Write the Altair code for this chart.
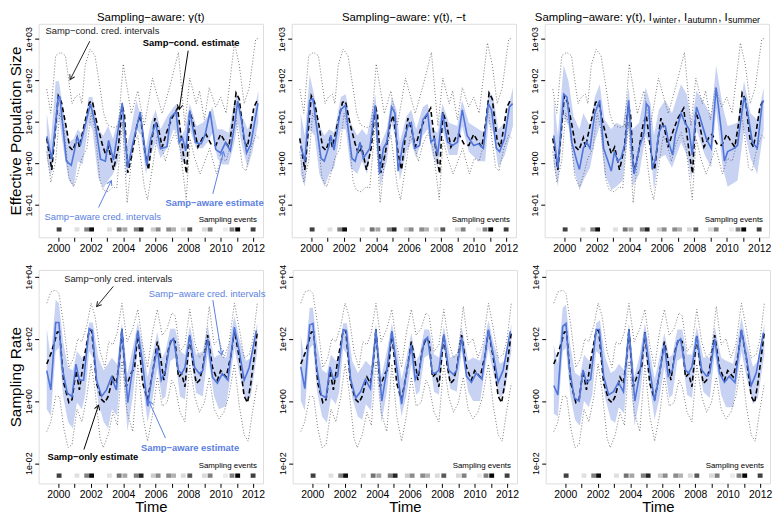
import altair as alt
import numpy as np
import pandas as pd

FONT = "Liberation Sans, Arial, sans-serif"
BLUE = "#4f74da"
BAND = "#c8d2f3"
BLUE_TXT = "#5b7fe0"

# ---------------- data (values are log10 of the plotted quantity) ----------------
TOP_DASH = [[1999.29,0.6],[1999.6,-0.16],[2000.0,1.63],[2000.2,1.47],[2000.5,0.85],[2000.7,0.39],[2000.9,0.31],[2001.17,0.62],[2001.3,0.39],[2001.6,0.93],[2001.92,1.47],[2002.1,1.5],[2002.4,0.93],[2002.7,0.47],[2002.9,0.23],[2003.1,0.39],[2003.4,-0.16],[2003.7,0.39],[2003.94,1.4],[2004.08,1.16],[2004.28,-0.23],[2004.55,0.23],[2004.85,0.93],[2005.05,1.16],[2005.35,0.23],[2005.56,-0.16],[2005.76,0.54],[2005.95,1.09],[2006.2,0.78],[2006.4,0.39],[2006.7,0.78],[2007.0,1.09],[2007.35,1.33],[2007.5,0.85],[2007.7,0.23],[2007.9,-0.25],[2008.1,1.24],[2008.3,1.0],[2008.6,0.39],[2008.9,0.62],[2009.1,0.7],[2009.4,0.47],[2009.7,0.43],[2010.0,0.7],[2010.24,0.54],[2010.5,0.39],[2010.75,1.0],[2010.95,1.7],[2011.15,1.55],[2011.45,0.54],[2011.65,0.39],[2011.85,0.85],[2012.05,1.36],[2012.3,1.55]]
TOP_UP = [[1999.29,1.79],[1999.54,1.21],[1999.84,2.6],[2000.14,2.68],[2000.44,2.6],[2000.65,1.98],[2000.85,1.44],[2001.05,1.6],[2001.3,1.67],[2001.45,1.44],[2001.66,2.37],[2001.96,2.76],[2002.26,2.6],[2002.57,1.83],[2002.8,1.2],[2003.03,0.93],[2003.4,0.86],[2003.7,0.9],[2004.0,2.4],[2004.5,1.2],[2004.9,1.75],[2005.3,0.9],[2005.8,2.06],[2006.4,1.2],[2006.9,1.9],[2007.4,2.68],[2007.8,0.9],[2008.1,2.06],[2008.5,1.44],[2008.7,1.75],[2009.0,1.05],[2009.3,1.83],[2009.7,1.36],[2010.0,1.6],[2010.34,1.21],[2010.85,2.91],[2011.15,2.37],[2011.45,1.44],[2011.76,1.83],[2012.16,3.0],[2012.36,3.02]]
TOP_LO = [[1999.29,0.28],[1999.54,-0.46],[1999.84,0.05],[2000.08,1.21],[2000.34,0.9],[2000.65,-0.34],[2000.95,-0.57],[2001.2,-0.26],[2001.45,0.12],[2001.76,0.36],[2002.02,1.21],[2002.26,0.82],[2002.57,-0.42],[2002.77,-0.65],[2003.07,-0.69],[2003.37,-0.57],[2003.6,-0.6],[2003.95,1.0],[2004.24,-0.96],[2004.6,0.43],[2004.9,0.67],[2005.3,-0.57],[2005.5,-0.88],[2005.8,-0.1],[2006.1,0.67],[2006.3,0.5],[2006.6,0.05],[2006.9,0.5],[2007.2,0.74],[2007.5,0.36],[2007.88,-0.88],[2008.12,0.59],[2008.4,0.12],[2008.73,-0.26],[2009.03,0.05],[2009.33,0.36],[2009.74,-0.26],[2010.04,0.12],[2010.34,0.05],[2010.65,0.51],[2010.85,1.44],[2011.05,0.82],[2011.35,-0.1],[2011.56,-0.19],[2011.86,0.36],[2012.16,0.67],[2012.36,0.6]]

T1_BLUE = [[1999.3,0.65],[1999.6,0.1],[2000.0,1.6],[2000.1,1.6],[2000.5,0.05],[2000.8,-0.05],[2001.17,0.62],[2001.37,0.45],[2001.98,1.44],[2002.3,0.9],[2002.6,0.1],[2002.9,0.05],[2003.1,0.55],[2003.4,0.08],[2003.94,1.46],[2004.28,-0.1],[2004.6,0.5],[2005.05,1.24],[2005.45,-0.05],[2005.7,0.6],[2006.0,0.98],[2006.3,0.35],[2006.7,0.4],[2006.9,1.1],[2007.25,1.25],[2007.45,0.5],[2007.65,0.62],[2007.85,0.3],[2008.1,1.27],[2008.45,0.5],[2008.8,0.47],[2009.05,0.7],[2009.35,1.25],[2009.7,0.33],[2010.0,0.25],[2010.3,0.5],[2010.6,0.3],[2010.85,0.9],[2011.05,1.5],[2011.3,1.0],[2011.6,0.25],[2011.85,0.45],[2012.3,1.45]]
T1_BAND = [[1999.29,0.12,1.21],[1999.54,-0.34,0.51],[1999.84,0.67,1.98],[2000.04,1.13,1.98],[2000.34,0.28,1.21],[2000.65,-0.42,0.51],[2000.95,-0.57,0.59],[2001.2,0.05,0.82],[2001.5,-0.03,0.67],[2001.88,0.98,1.6],[2002.1,0.82,1.6],[2002.46,-0.34,0.82],[2002.77,-0.61,0.67],[2003.07,-0.42,0.9],[2003.37,-0.26,0.59],[2003.68,0.05,1.05],[2003.92,0.98,1.44],[2004.18,-0.34,0.36],[2004.48,0.12,0.82],[2004.8,0.82,1.52],[2005.1,0.67,1.13],[2005.4,-0.26,0.36],[2005.7,0.2,0.98],[2006.0,0.51,1.29],[2006.3,0.12,0.82],[2006.7,0.36,1.13],[2007.1,0.82,1.36],[2007.3,0.74,1.44],[2007.6,0.05,0.67],[2007.8,-0.03,0.82],[2008.1,0.82,1.44],[2008.5,0.36,0.9],[2008.9,0.36,0.98],[2009.2,0.51,1.13],[2009.5,0.74,1.36],[2009.8,0.12,0.82],[2010.1,-0.03,0.82],[2010.5,-0.03,0.74],[2010.85,0.51,1.52],[2011.05,0.98,1.67],[2011.35,0.36,1.13],[2011.66,-0.11,0.82],[2011.96,0.28,1.05],[2012.32,0.98,1.75]]

T2_BLUE = [[1999.35,0.43],[1999.6,0.05],[1999.9,1.52],[2000.1,1.56],[2000.4,0.67],[2000.6,0.12],[2000.8,0.05],[2001.1,0.43],[2001.2,0.67],[2001.4,0.32],[2001.8,1.29],[2002.1,1.4],[2002.3,0.74],[2002.5,0.12],[2002.7,0.05],[2003.0,0.51],[2003.2,0.12],[2003.6,0.36],[2003.94,1.4],[2004.2,-0.26],[2004.44,0.36],[2004.65,0.51],[2004.95,1.36],[2005.15,1.21],[2005.35,-0.19],[2005.66,0.51],[2005.96,0.9],[2006.16,0.98],[2006.36,0.36],[2006.67,0.43],[2006.87,1.05],[2007.17,1.21],[2007.37,0.51],[2007.58,0.59],[2007.78,0.2],[2008.08,1.21],[2008.4,0.51],[2008.7,0.43],[2009.0,0.51],[2009.3,1.29],[2009.6,0.67],[2010.0,0.43],[2010.3,0.47],[2010.6,0.36],[2010.9,1.44],[2011.1,1.29],[2011.4,0.36],[2011.6,0.28],[2011.9,0.59],[2012.2,1.36],[2012.4,1.44]]
T2_BAND = [[1999.35,-0.26,1.21],[1999.6,-0.57,0.67],[1999.9,0.82,2.14],[2000.2,0.67,1.6],[2000.5,-0.26,0.9],[2000.81,-0.57,0.67],[2001.11,-0.26,0.82],[2001.41,-0.11,0.74],[2001.82,0.82,1.6],[2002.12,0.82,1.67],[2002.42,-0.11,0.98],[2002.83,-0.26,0.67],[2003.13,0.05,0.82],[2003.43,-0.26,0.67],[2003.94,0.98,1.67],[2004.24,-0.57,0.43],[2004.65,0.05,0.82],[2004.95,0.98,1.6],[2005.25,0.51,1.29],[2005.45,-0.42,0.51],[2005.86,0.28,1.13],[2006.16,0.51,1.29],[2006.46,0.12,0.82],[2006.87,0.67,1.36],[2007.17,0.82,1.44],[2007.47,0.2,0.82],[2007.78,-0.11,0.74],[2008.08,0.82,1.44],[2008.48,0.2,0.98],[2008.99,0.2,0.9],[2009.29,0.9,1.52],[2009.7,0.28,0.98],[2010.3,0.05,0.82],[2010.71,0.05,0.74],[2010.91,0.98,1.75],[2011.21,0.74,1.6],[2011.52,-0.11,0.82],[2011.92,0.2,0.98],[2012.42,0.9,1.83]]

T3_BLUE = [[1999.35,0.67],[1999.6,-0.11],[1999.96,1.67],[2000.16,1.6],[2000.46,0.51],[2000.77,0.05],[2000.93,-0.15],[2001.17,0.36],[2001.37,0.51],[2001.58,0.36],[2001.88,1.21],[2002.18,1.52],[2002.42,0.36],[2002.69,0.05],[2002.89,-0.19],[2003.09,0.28],[2003.29,0.05],[2003.49,0.12],[2003.76,0.51],[2003.96,1.52],[2004.16,0.28],[2004.3,-0.26],[2004.61,0.36],[2004.91,0.74],[2005.05,1.44],[2005.21,1.36],[2005.41,-0.15],[2005.62,0.12],[2005.82,0.74],[2006.02,0.9],[2006.22,0.9],[2006.42,0.51],[2006.67,0.2],[2006.83,0.67],[2007.19,1.21],[2007.43,0.98],[2007.68,0.82],[2007.88,0.2],[2008.14,1.36],[2008.34,1.13],[2008.75,0.59],[2009.05,0.36],[2009.35,1.83],[2009.66,0.82],[2009.86,0.05],[2010.06,0.28],[2010.46,0.36],[2010.67,0.43],[2010.87,1.05],[2011.07,1.6],[2011.27,1.29],[2011.58,0.51],[2011.88,0.36],[2012.18,1.44],[2012.28,1.52]]
T3_BAND = [[1999.35,-0.03,1.6],[1999.6,-0.57,0.67],[1999.96,1.13,2.37],[2000.26,0.9,1.98],[2000.57,-0.11,1.13],[2000.93,-0.65,0.82],[2001.17,-0.42,1.21],[2001.58,-0.11,0.9],[2001.88,0.51,1.6],[2002.18,0.9,1.91],[2002.48,-0.26,1.05],[2002.89,-0.65,0.82],[2003.19,-0.57,0.98],[2003.6,-0.42,0.9],[2003.96,0.9,1.83],[2004.2,-0.57,0.82],[2004.61,-0.26,0.98],[2005.01,0.67,1.83],[2005.31,0.36,1.44],[2005.52,-0.65,0.67],[2005.82,0.12,1.29],[2006.22,0.2,1.52],[2006.63,-0.11,1.21],[2007.19,0.51,1.91],[2007.54,0.2,1.67],[2007.84,-0.42,0.98],[2008.14,0.82,1.75],[2008.65,0.2,1.44],[2009.05,-0.11,1.13],[2009.35,1.29,2.37],[2009.76,-0.11,1.36],[2010.06,-0.57,0.9],[2010.67,-0.42,0.98],[2011.07,0.82,1.98],[2011.47,0.12,1.21],[2011.88,-0.26,1.05],[2012.28,0.82,1.83]]

BOT_DASH = [[1999.29,1.19],[1999.6,1.6],[1999.94,2.22],[2000.08,2.22],[2000.34,0.57],[2000.65,-0.05],[2000.85,0.05],[2001.09,0.98],[2001.3,0.36],[2001.56,1.29],[2001.9,2.27],[2002.06,2.27],[2002.36,0.57],[2002.67,0.05],[2002.87,-0.05],[2003.07,0.15],[2003.37,0.77],[2003.58,0.57],[2003.78,1.39],[2003.92,2.33],[2004.18,0.46],[2004.48,0.88],[2004.7,1.08],[2004.9,2.22],[2005.2,0.57],[2005.5,0.05],[2005.8,0.88],[2006.1,1.91],[2006.3,1.39],[2006.5,0.67],[2006.8,1.71],[2007.0,2.01],[2007.2,1.91],[2007.4,0.77],[2007.6,0.88],[2007.8,0.46],[2008.1,2.12],[2008.3,1.19],[2008.5,0.57],[2008.7,0.67],[2008.9,1.08],[2009.2,2.12],[2009.5,1.08],[2009.8,0.67],[2010.0,0.98],[2010.34,0.77],[2010.65,1.5],[2010.85,2.27],[2011.15,1.39],[2011.45,0.15],[2011.66,-0.05],[2011.86,0.57],[2012.06,1.39],[2012.26,2.22]]
BOT_UP = [[1999.29,3.15],[1999.54,3.51],[1999.84,3.57],[2000.04,3.46],[2000.34,2.43],[2000.65,1.08],[2000.95,1.39],[2001.2,2.01],[2001.45,1.91],[2001.76,2.43],[2002.02,3.15],[2002.26,2.74],[2002.57,1.6],[2002.87,1.08],[2003.11,1.91],[2003.37,1.81],[2003.64,2.22],[2003.92,3.15],[2004.24,1.91],[2004.59,2.33],[2004.9,2.95],[2005.2,1.81],[2005.5,1.08],[2005.8,2.22],[2006.1,2.95],[2006.4,2.12],[2006.7,2.33],[2007.0,2.84],[2007.2,2.74],[2007.5,1.6],[2007.8,1.81],[2008.1,2.95],[2008.4,1.91],[2008.7,1.39],[2009.0,1.6],[2009.3,3.05],[2009.6,1.81],[2009.9,2.01],[2010.2,1.39],[2010.5,1.81],[2010.85,3.15],[2011.15,2.33],[2011.45,1.39],[2011.76,1.5],[2012.0,2.01],[2012.26,3.15]]
BOT_LO = [[1999.29,-0.98],[1999.54,-0.67],[1999.84,0.15],[2000.08,0.15],[2000.34,-0.88],[2000.6,-1.5],[2000.85,-1.4],[2001.15,-0.26],[2001.45,-0.67],[2001.76,0.15],[2002.02,1.19],[2002.26,0.36],[2002.57,-1.19],[2002.77,-1.5],[2003.07,-1.09],[2003.37,-0.36],[2003.64,-0.78],[2003.92,1.29],[2004.24,-0.36],[2004.59,-0.98],[2004.9,1.19],[2005.2,-0.47],[2005.5,-1.29],[2005.8,-0.47],[2006.1,0.77],[2006.4,-0.16],[2006.7,-0.05],[2007.0,0.67],[2007.2,0.46],[2007.5,-0.36],[2007.8,-0.67],[2008.1,1.19],[2008.4,0.15],[2008.7,-0.36],[2009.0,-0.05],[2009.3,0.77],[2009.6,-0.26],[2009.9,-0.57],[2010.2,-0.36],[2010.5,0.15],[2010.85,1.19],[2011.15,-0.16],[2011.45,-1.09],[2011.7,-1.29],[2011.96,-0.36],[2012.26,0.57]]

B1_BLUE = [[1999.29,0.98],[1999.54,0.36],[1999.84,2.53],[2000.04,2.53],[2000.24,1.08],[2000.55,0.26],[2000.85,0.15],[2001.09,1.19],[2001.3,0.67],[2001.56,0.67],[2001.9,2.33],[2002.1,2.27],[2002.36,0.67],[2002.67,0.15],[2002.97,0.36],[2003.27,0.77],[2003.58,0.36],[2003.92,2.33],[2004.28,-0.05],[2004.59,1.08],[2004.9,2.27],[2005.2,1.19],[2005.5,-0.16],[2005.8,0.88],[2006.1,1.71],[2006.34,0.67],[2006.6,0.98],[2006.9,1.91],[2007.1,2.01],[2007.4,0.98],[2007.6,0.88],[2007.8,1.08],[2008.1,2.12],[2008.4,1.08],[2008.7,0.88],[2008.9,0.98],[2009.2,2.01],[2009.5,0.77],[2009.8,0.57],[2010.1,0.88],[2010.45,0.67],[2010.85,2.38],[2011.15,1.6],[2011.45,0.67],[2011.76,1.08],[2012.2,2.27]]
B1_BAND = [[1999.29,-0.26,2.33],[1999.54,-0.47,1.39],[1999.84,1.6,3.26],[2000.04,1.71,3.15],[2000.3,0.15,1.91],[2000.6,-0.67,1.08],[2000.9,-0.88,0.98],[2001.15,-0.05,1.6],[2001.45,-0.26,1.39],[2001.66,0.2,1.5],[2001.9,1.6,2.53],[2002.13,1.39,2.53],[2002.46,-0.05,1.39],[2002.8,-0.67,0.98],[2003.07,-0.88,1.2],[2003.3,-0.26,1.39],[2003.62,-0.47,1.19],[2003.92,1.6,2.53],[2004.26,-0.98,0.88],[2004.59,0.15,1.71],[2004.9,1.71,2.53],[2005.2,0.57,1.81],[2005.5,-0.67,0.77],[2005.8,0.05,1.5],[2006.1,1.08,2.22],[2006.4,0.05,1.39],[2006.6,0.15,1.6],[2006.9,1.29,2.33],[2007.2,1.39,2.33],[2007.5,0.15,1.6],[2007.8,0.05,1.5],[2008.1,1.6,2.43],[2008.5,0.26,1.5],[2008.9,0.15,1.6],[2009.2,1.5,2.43],[2009.6,0.15,1.39],[2009.9,-0.26,1.5],[2010.34,-0.16,1.39],[2010.85,1.71,2.74],[2011.15,0.88,2.01],[2011.56,-0.05,1.29],[2011.86,0.15,1.39],[2012.26,1.6,2.53]]

B2_BLUE = [[1999.29,1.1],[1999.54,0.4],[1999.84,2.45],[2000.04,2.5],[2000.24,1.2],[2000.55,0.2],[2000.85,0.1],[2001.09,1.1],[2001.3,0.7],[2001.56,0.8],[2001.9,2.3],[2002.1,2.25],[2002.36,0.7],[2002.67,0.1],[2002.97,0.3],[2003.27,0.7],[2003.58,0.4],[2003.92,2.3],[2004.28,0.0],[2004.59,1.0],[2004.9,2.25],[2005.2,1.1],[2005.5,-0.1],[2005.8,0.9],[2006.1,1.8],[2006.34,0.7],[2006.6,1.0],[2006.9,1.95],[2007.1,2.05],[2007.4,0.9],[2007.6,0.9],[2007.8,1.0],[2008.1,2.15],[2008.4,1.0],[2008.7,0.85],[2008.9,1.0],[2009.2,2.05],[2009.5,0.8],[2009.8,0.6],[2010.1,0.9],[2010.45,0.7],[2010.85,2.3],[2011.15,1.5],[2011.45,0.6],[2011.76,1.0],[2012.2,2.25]]
B2_BAND = [[1999.29,0.0,2.1],[1999.54,-0.3,1.3],[1999.84,1.7,3.0],[2000.04,1.8,3.0],[2000.3,0.3,1.8],[2000.6,-0.5,1.0],[2000.9,-0.7,0.9],[2001.15,0.1,1.5],[2001.45,-0.1,1.3],[2001.66,0.3,1.4],[2001.9,1.7,2.5],[2002.13,1.5,2.5],[2002.46,0.1,1.3],[2002.8,-0.5,0.9],[2003.07,-0.6,1.1],[2003.3,-0.1,1.3],[2003.62,-0.3,1.1],[2003.92,1.7,2.5],[2004.26,-0.7,0.8],[2004.59,0.3,1.6],[2004.9,1.8,2.5],[2005.2,0.6,1.7],[2005.5,-0.5,0.7],[2005.8,0.2,1.4],[2006.1,1.2,2.2],[2006.4,0.2,1.3],[2006.6,0.3,1.5],[2006.9,1.4,2.3],[2007.2,1.5,2.3],[2007.5,0.3,1.5],[2007.8,0.2,1.4],[2008.1,1.7,2.4],[2008.5,0.4,1.4],[2008.9,0.3,1.5],[2009.2,1.6,2.4],[2009.6,0.3,1.3],[2009.9,0.0,1.4],[2010.34,0.0,1.3],[2010.85,1.7,2.6],[2011.15,0.9,1.9],[2011.56,0.1,1.2],[2011.86,0.3,1.3],[2012.26,1.6,2.5]]
B3_BLUE = [[1999.29,0.5],[1999.54,0.2],[1999.84,2.4],[2000.04,2.5],[2000.24,1.1],[2000.55,0.1],[2000.85,0.0],[2001.09,1.0],[2001.3,0.6],[2001.56,0.7],[2001.9,2.3],[2002.1,2.3],[2002.36,0.8],[2002.67,0.2],[2002.97,0.3],[2003.27,0.6],[2003.58,0.3],[2003.92,2.3],[2004.28,0.0],[2004.59,0.9],[2004.9,2.2],[2005.2,1.0],[2005.5,0.0],[2005.8,0.9],[2006.1,1.8],[2006.34,0.8],[2006.6,1.0],[2006.9,1.9],[2007.1,2.0],[2007.4,1.0],[2007.6,0.9],[2007.8,1.1],[2008.1,2.1],[2008.4,1.0],[2008.7,0.8],[2008.9,0.9],[2009.2,2.0],[2009.5,0.9],[2009.8,0.6],[2010.1,0.8],[2010.45,0.6],[2010.85,2.3],[2011.15,1.4],[2011.45,0.5],[2011.76,0.9],[2012.2,2.2]]
B3_BAND = [[1999.29,-0.4,1.8],[1999.54,-0.5,1.2],[1999.84,1.6,3.0],[2000.04,1.7,3.1],[2000.3,0.2,1.8],[2000.6,-0.6,0.9],[2000.9,-0.8,0.8],[2001.15,0.0,1.5],[2001.45,-0.2,1.3],[2001.66,0.2,1.4],[2001.9,1.6,2.5],[2002.13,1.5,2.6],[2002.46,0.1,1.4],[2002.8,-0.6,0.9],[2003.07,-0.7,1.0],[2003.3,-0.2,1.2],[2003.62,-0.4,1.0],[2003.92,1.6,2.5],[2004.26,-0.8,0.8],[2004.59,0.1,1.5],[2004.9,1.6,2.5],[2005.2,0.5,1.6],[2005.5,-0.6,0.7],[2005.8,0.1,1.4],[2006.1,1.1,2.2],[2006.4,0.1,1.4],[2006.6,0.2,1.5],[2006.9,1.3,2.3],[2007.2,1.4,2.3],[2007.5,0.2,1.5],[2007.8,0.1,1.5],[2008.1,1.6,2.4],[2008.5,0.3,1.4],[2008.9,0.1,1.4],[2009.2,1.5,2.4],[2009.6,0.2,1.4],[2009.9,-0.2,1.3],[2010.34,-0.2,1.2],[2010.85,1.6,2.7],[2011.15,0.8,1.9],[2011.56,-0.1,1.1],[2011.86,0.1,1.3],[2012.26,1.5,2.5]]

STRIP_T = [2000.05, 2001.15, 2001.75, 2002.05, 2003.15, 2003.75, 2004.1, 2004.8, 2005.1, 2005.85, 2006.15, 2006.8, 2007.1, 2007.7, 2008.1, 2009.0, 2009.35, 2010.3, 2010.7, 2011.05, 2012.0]
STRIP_SHADE = [0.75, 0.12, 0.5, 0.95, 0.12, 0.55, 0.35, 0.5, 0.85, 0.2, 0.45, 0.45, 0.3, 0.15, 0.65, 0.15, 0.5, 0.08, 0.5, 0.98, 0.75]

YEAR_TICKS = list(range(2000, 2013))
TOP_TICKS = [0.1, 1, 10, 100, 1000]
BOT_TICKS = [0.01, 1, 100, 10000]

# annotations: (t, log10 value, text, colour, weight)
TL_TEXT = [(1999.21, 3.19, "Samp\u2212cond. cred. intervals", "#222222", "normal"),
           (2005.21, 2.91, "Samp\u2212cond. estimate", "#000000", "bold"),
           (1999.15, -1.30, "Samp\u2212aware cred. intervals", BLUE_TXT, "normal"),
           (2006.6, -0.95, "Samp\u2212aware estimate", BLUE_TXT, "bold")]
TL_ARROWS = [(2001.94, 2.95, 2000.73, 2.02, "#222222"),
             (2008.0, 2.72, 2007.45, 1.30, "#000000"),
             (2002.48, -1.07, 2003.27, -0.42, BLUE_TXT),
             (2009.52, -0.74, 2010.18, 0.28, BLUE_TXT)]
BL_TEXT = [(2000.36, 3.94, "Samp\u2212only cred. intervals", "#222222", "normal"),
           (2005.58, 3.44, "Samp\u2212aware cred. intervals", BLUE_TXT, "normal"),
           (1999.33, -1.81, "Samp\u2212only estimate", "#000000", "bold"),
           (2005.09, -1.50, "Samp\u2212aware estimate", BLUE_TXT, "bold")]
BL_ARROWS = [(2003.39, 3.69, 2002.36, 3.04, "#222222"),
             (2009.52, 3.25, 2010.06, 1.48, BLUE_TXT),
             (2001.58, -1.56, 2002.48, -0.13, "#000000"),
             (2006.6, -1.19, 2005.58, 0.0, BLUE_TXT)]

# ---------------- layout ----------------
W, H = 227, 216
XDOM = [1998.79, 2012.61]
TOP_LDOM = [-1.79, 3.37]
BOT_LDOM = [-2.65, 4.22]
STRIP_TOP = (-1.65, -1.55)
STRIP_BOT = (-2.47, -2.33)
SE_TOP = -1.37
SE_BOT = -2.09
HEAD = "M-0.577,1L0,0L0.577,1"


def line_df(pairs):
    a = np.array(pairs, dtype=float)
    return pd.DataFrame({"t": a[:, 0], "v": 10 ** a[:, 1]})


def band_df(trip):
    a = np.array(trip, dtype=float)
    return pd.DataFrame({"t": a[:, 0], "lo": 10 ** a[:, 1], "hi": 10 ** a[:, 2]})


def gray(s):
    g = int(round(255 * (1 - s)))
    return "#%02x%02x%02x" % (g, g, g)


def panel(blue, band, dash, up, lo, ldom, yticks, ytitle, xtitle, title_parts,
          texts, arrows, strip_rng, se_l):
    xs = alt.Scale(domain=XDOM, nice=False, zero=False)
    ys = alt.Scale(type="log", domain=[10 ** ldom[0], 10 ** ldom[1]], nice=False)
    xax = alt.Axis(values=YEAR_TICKS, labelExpr="datum.value % 2 == 0 ? format(datum.value, 'd') : ''",
                   title=xtitle, grid=False, domain=False, tickSize=4, tickColor="black",
                   labelFont=FONT, labelFontSize=10.5, labelColor="black", labelPadding=2,
                   titleFont=FONT, titleFontSize=15, titleFontWeight="normal", titleColor="black",
                   titlePadding=0)
    yax = alt.Axis(values=yticks,
                   labelExpr="'1e' + (datum.value >= 1 ? '+' : '-') + '0' + abs(round(log(datum.value) / LN10))",
                   title=ytitle, grid=False, domain=False, tickSize=4, tickColor="black",
                   labelFont=FONT, labelFontSize=9, labelColor="black", labelPadding=1,
                   labelAngle=270, labelAlign="center", labelBaseline="bottom",
                   titleFont=FONT, titleFontSize=15.5, titleFontWeight="normal", titleColor="black",
                   titlePadding=1)

    def X(f):
        return alt.X(f, type="quantitative", scale=xs, axis=xax)

    def Y(f):
        return alt.Y(f, type="quantitative", scale=ys, axis=yax)

    layers = []
    layers.append(alt.Chart(band_df(band)).mark_area(color=BAND, opacity=1, clip=True)
                  .encode(x=X("t"), y=Y("lo"), y2="hi"))
    for d in (up, lo):
        layers.append(alt.Chart(line_df(d)).mark_line(color="#555555", strokeWidth=0.8,
                                                      strokeDash=[1, 2], clip=True)
                      .encode(x=X("t"), y=Y("v")))
    layers.append(alt.Chart(line_df(dash)).mark_line(color="black", strokeWidth=1.6,
                                                     strokeDash=[5, 3], clip=True)
                  .encode(x=X("t"), y=Y("v")))
    layers.append(alt.Chart(line_df(blue)).mark_line(color=BLUE, strokeWidth=1.6, clip=True)
                  .encode(x=X("t"), y=Y("v")))
    # sampling events strip
    st = pd.DataFrame({"t0": np.array(STRIP_T) - 0.15, "t1": np.array(STRIP_T) + 0.15,
                       "y0": 10 ** strip_rng[0], "y1": 10 ** strip_rng[1],
                       "col": [gray(s) for s in STRIP_SHADE]})
    layers.append(alt.Chart(st).mark_rect().encode(x=X("t0"), x2="t1", y=Y("y0"), y2="y1",
                                                   color=alt.Color("col:N", scale=None)))
    se = pd.DataFrame({"t": [2012.24], "v": [10 ** se_l], "txt": ["Sampling events"]})
    layers.append(alt.Chart(se).mark_text(align="right", baseline="middle", font=FONT,
                                          fontSize=8, color="black")
                  .encode(x=X("t"), y=Y("v"), text="txt:N"))
    # annotations
    if texts:
        tdf = pd.DataFrame(texts, columns=["t", "l", "txt", "col", "w"])
        tdf["v"] = 10 ** tdf["l"]
        for w in ("normal", "bold"):
            sub = tdf[tdf["w"] == w]
            layers.append(alt.Chart(sub).mark_text(align="left", baseline="middle", font=FONT,
                                                   fontSize=9.5, fontWeight=w)
                          .encode(x=X("t"), y=Y("v"), text="txt:N",
                                  color=alt.Color("col:N", scale=None)))
        adf = pd.DataFrame(arrows, columns=["t0", "l0", "t1", "l1", "col"])
        adf["v0"] = 10 ** adf["l0"]
        adf["v1"] = 10 ** adf["l1"]

        def px(t, l):
            return ((t - XDOM[0]) / (XDOM[1] - XDOM[0]) * W,
                    H * (ldom[1] - l) / (ldom[1] - ldom[0]))
        angs = []
        for _, r in adf.iterrows():
            x0, y0 = px(r.t0, r.l0)
            x1, y1 = px(r.t1, r.l1)
            angs.append(float(np.degrees(np.arctan2(x1 - x0, -(y1 - y0))) % 360))
        adf["ang"] = angs
        layers.append(alt.Chart(adf).mark_rule(strokeWidth=1)
                      .encode(x=X("t0"), x2="t1", y=Y("v0"), y2="v1",
                              color=alt.Color("col:N", scale=None)))
        layers.append(alt.Chart(adf).mark_point(shape=HEAD, filled=False, size=90, strokeWidth=1,
                                                opacity=1)
                      .encode(x=X("t1"), y=Y("v1"), angle=alt.Angle("ang:Q", scale=None),
                              color=alt.Color("col:N", scale=None)))
    # panel title pieces (text, x px, y px, size, align)
    for txt, xp, yp, fs, al in title_parts:
        tdf = pd.DataFrame({"txt": [txt]})
        layers.append(alt.Chart(tdf).mark_text(align=al, baseline="alphabetic", font=FONT,
                                               fontSize=fs, color="black")
                      .encode(x=alt.value(xp), y=alt.value(yp), text="txt:N"))
    return alt.layer(*layers).properties(width=W, height=H)


T1 = [("Sampling\u2212aware: \u03b3(t)", W / 2, -3, 11.5, "center")]
T2 = [("Sampling\u2212aware: \u03b3(t), \u2212t", W / 2, -3, 11.5, "center")]
T3 = [("Sampling\u2212aware: \u03b3(t), I", -10, -3, 11.5, "left"),
      ("winter", 109.5, -1, 9, "left"),
      (", I", 134.5, -3, 11.5, "left"),
      ("autumn", 144.5, -1, 9, "left"),
      (", I", 175.5, -3, 11.5, "left"),
      ("summer", 185.5, -1, 9, "left")]

top = alt.hconcat(
    panel(T1_BLUE, T1_BAND, TOP_DASH, TOP_UP, TOP_LO, TOP_LDOM, TOP_TICKS, "Effective Population Size",
          None, T1, TL_TEXT, TL_ARROWS, STRIP_TOP, SE_TOP),
    panel(T2_BLUE, T2_BAND, TOP_DASH, TOP_UP, TOP_LO, TOP_LDOM, TOP_TICKS, None,
          None, T2, None, None, STRIP_TOP, SE_TOP),
    panel(T3_BLUE, T3_BAND, TOP_DASH, TOP_UP, TOP_LO, TOP_LDOM, TOP_TICKS, None,
          None, T3, None, None, STRIP_TOP, SE_TOP),
    spacing=11)
bot = alt.hconcat(
    panel(B1_BLUE, B1_BAND, BOT_DASH, BOT_UP, BOT_LO, BOT_LDOM, BOT_TICKS, "Sampling Rate",
          "Time", [], BL_TEXT, BL_ARROWS, STRIP_BOT, SE_BOT),
    panel(B2_BLUE, B2_BAND, BOT_DASH, BOT_UP, BOT_LO, BOT_LDOM, BOT_TICKS, None,
          "Time", [], None, None, STRIP_BOT, SE_BOT),
    panel(B3_BLUE, B3_BAND, BOT_DASH, BOT_UP, BOT_LO, BOT_LDOM, BOT_TICKS, None,
          "Time", [], None, None, STRIP_BOT, SE_BOT),
    spacing=11)

chart = alt.vconcat(top, bot, spacing=9).properties(padding=0).configure_view(
    stroke="black", strokeWidth=1, fill="white").configure(background="white")

chart.save("out.html", embed_options={"renderer": "svg", "actions": False})
